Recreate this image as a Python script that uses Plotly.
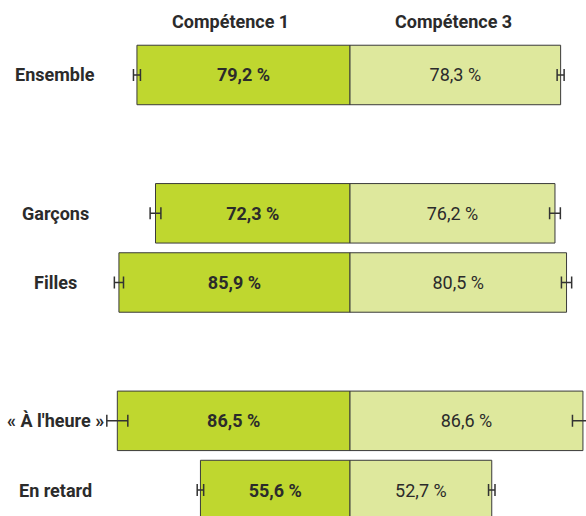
import plotly.graph_objects as go

categories = ["Ensemble", "Garçons", "Filles", "« À l'heure »", "En retard"]
cat_pos = [0, 2, 3, 5, 6]
comp1 = [79.2, 72.3, 85.9, 86.5, 55.6]
comp3 = [78.3, 76.2, 80.5, 86.6, 52.7]
err1 = [1.3, 2.0, 1.7, 3.9, 1.2]
err3 = [1.3, 2.0, 1.9, 3.9, 1.2]
series_names = ["Compétence 1", "Compétence 3"]

def fmt(v):
    return f"{v:.1f}".replace(".", ",") + " %"

FONT = "Roboto"
TXT = "#2b2b2b"

fig = go.Figure()
fig.add_trace(go.Bar(
    name=series_names[0], y=cat_pos, x=[-v for v in comp1], orientation="h",
    marker=dict(color="#BFD72F", line=dict(color="#3a3a3a", width=1)),
    width=0.86,
    text=[fmt(v) for v in comp1], textposition="inside", insidetextanchor="middle",
    textfont=dict(family=FONT, size=18, color=TXT, weight="bold"),
    error_x=dict(type="data", array=err1, symmetric=True, color="#333333", thickness=1.5, width=6),
))
fig.add_trace(go.Bar(
    name=series_names[1], y=cat_pos, x=comp3, orientation="h",
    marker=dict(color="#DEE89D", line=dict(color="#3a3a3a", width=1)),
    width=0.86,
    text=[fmt(v) for v in comp3], textposition="inside", insidetextanchor="middle",
    textfont=dict(family=FONT, size=18, color=TXT),
    error_x=dict(type="data", array=err3, symmetric=True, color="#333333", thickness=1.5, width=6),
))

for c, p in zip(categories, cat_pos):
    fig.add_annotation(x=55 / 586, xref="paper", y=p, yref="y", text=c, showarrow=False,
                       xanchor="center", font=dict(family=FONT, size=18, color=TXT, weight="bold"))

fig.add_annotation(x=-44.6, xref="x", y=1 - 22 / 516, yref="paper", yanchor="middle", text=series_names[0],
                   showarrow=False, font=dict(family=FONT, size=18, color=TXT, weight="bold"))
fig.add_annotation(x=38.3, xref="x", y=1 - 22 / 516, yref="paper", yanchor="middle", text=series_names[1],
                   showarrow=False, font=dict(family=FONT, size=18, color=TXT, weight="bold"))

fig.update_layout(
    width=586, height=516, margin=dict(l=0, r=0, t=0, b=0),
    paper_bgcolor="white", plot_bgcolor="white",
    barmode="relative", showlegend=False,
    xaxis=dict(range=[-350 / 2.69, 236 / 2.69], visible=False, fixedrange=True),
    yaxis=dict(range=[6 + 26 / 69.2, -75 / 69.2], visible=False, fixedrange=True),
)

post = "document.body.style.margin = '0';"
fig.write_html("out.html", post_script=post, config={"displayModeBar": False})
